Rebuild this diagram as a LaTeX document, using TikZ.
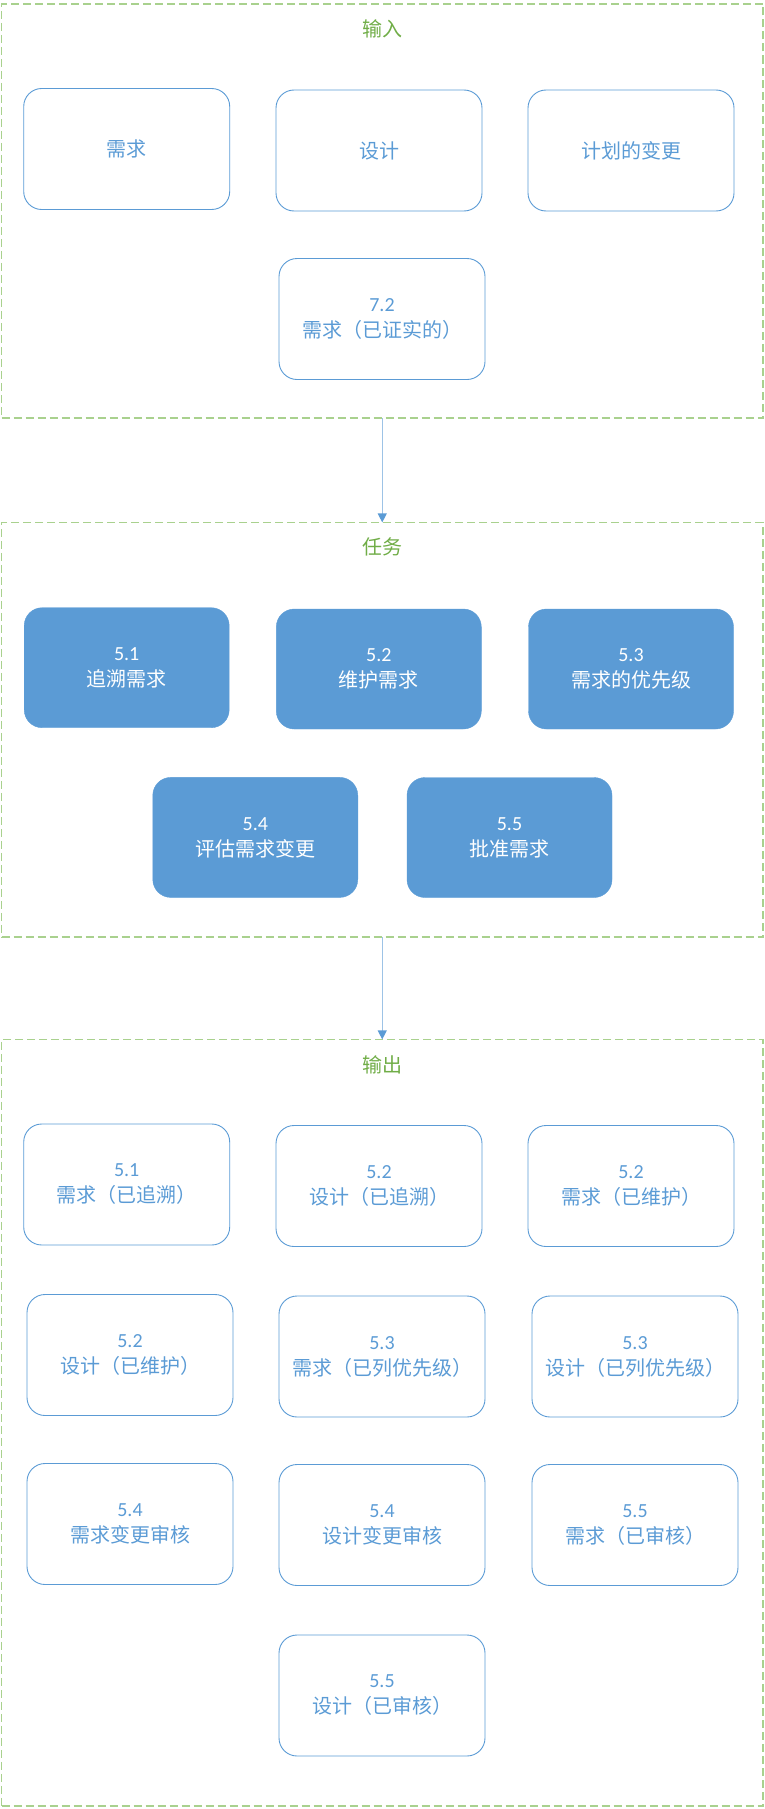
\documentclass[tikz,border=0pt]{standalone}
\usepackage{fontspec}
\setmainfont{Carlito}
\newfontfamily\cjk{Noto Sans CJK SC}
\usetikzlibrary{arrows.meta}
\definecolor{nblue}{HTML}{5B9BD5}
\definecolor{lblue}{HTML}{9DC3E6}
\definecolor{tgreen}{HTML}{70AD47}
\definecolor{dgreen}{HTML}{A9D18E}
\tikzset{
  group/.style={draw=dgreen, line width=1.2pt, dash pattern=on 8pt off 4pt, inner sep=0pt, outer sep=0pt},
  title/.style={text=tgreen, font=\fontsize{20}{24}\selectfont\cjk},
  outbox/.style={draw=nblue, line width=0.9pt, rounded corners=18pt, minimum width=206pt, minimum height=121pt, align=center, text=nblue, font=\fontsize{20}{26}\selectfont, inner sep=0pt},
  taskbox/.style={fill=nblue, draw=nblue, rounded corners=18pt, minimum width=205pt, minimum height=120pt, align=center, text=white, font=\fontsize{20}{26}\selectfont, inner sep=0pt},
  flow/.style={draw=lblue, line width=1.2pt, -{Triangle[length=9pt,width=9pt,fill=nblue,color=nblue]}}
}
\begin{document}
\begin{tikzpicture}[x=1pt,y=-1pt]
\useasboundingbox (0,0) rectangle (764,1809);
% containers
\node[group, minimum width=761.5pt, minimum height=414pt] (gin) at (382.25,211) {};
\node[group, minimum width=761.5pt, minimum height=414.6pt] (gtask) at (382.25,729.7) {};
\node[group, minimum width=761.5pt, minimum height=766.6pt] (gout) at (382.25,1422.7) {};
\node[title] (tin) at (382,28.4) {输入};
\node[title] (ttask) at (382,547) {任务};
\node[title] (tout) at (382,1065) {输出};
% inputs
\node[outbox] (i1) at (126.7,149) {\cjk 需求};
\node[outbox] (i2) at (379,150.5) {\cjk 设计};
\node[outbox] (i3) at (631,150.5) {\cjk 计划的变更};
\node[outbox] (i4) at (382,319) {7.2\\ \cjk 需求（已证实的）};
% tasks
\node[taskbox] (t1) at (126.7,667.7) {5.1\\ \cjk 追溯需求};
\node[taskbox] (t2) at (378.8,669) {5.2\\ \cjk 维护需求};
\node[taskbox] (t3) at (631,669) {5.3\\ \cjk 需求的优先级};
\node[taskbox] (t4) at (255.3,837.4) {5.4\\ \cjk 评估需求变更};
\node[taskbox] (t5) at (509.5,837.5) {5.5\\ \cjk 批准需求};
% outputs
\node[outbox] (o1) at (126.7,1184.5) {5.1\\ \cjk 需求（已追溯）};
\node[outbox] (o2) at (379,1186) {5.2\\ \cjk 设计（已追溯）};
\node[outbox] (o3) at (631,1186) {5.2\\ \cjk 需求（已维护）};
\node[outbox] (o4) at (130,1355) {5.2\\ \cjk 设计（已维护）};
\node[outbox] (o5) at (382,1356.5) {5.3\\ \cjk 需求（已列优先级）};
\node[outbox] (o6) at (635,1356.5) {5.3\\ \cjk 设计（已列优先级）};
\node[outbox] (o7) at (130,1524) {5.4\\ \cjk 需求变更审核};
\node[outbox] (o8) at (382,1525) {5.4\\ \cjk 设计变更审核};
\node[outbox] (o9) at (635,1525) {5.5\\ \cjk 需求（已审核）};
\node[outbox] (o10) at (382,1695.5) {5.5\\ \cjk 设计（已审核）};
% connectors
\draw[flow] (gin.south) -- (gtask.north);
\draw[flow] (gtask.south) -- (gout.north);
\end{tikzpicture}
\end{document}
